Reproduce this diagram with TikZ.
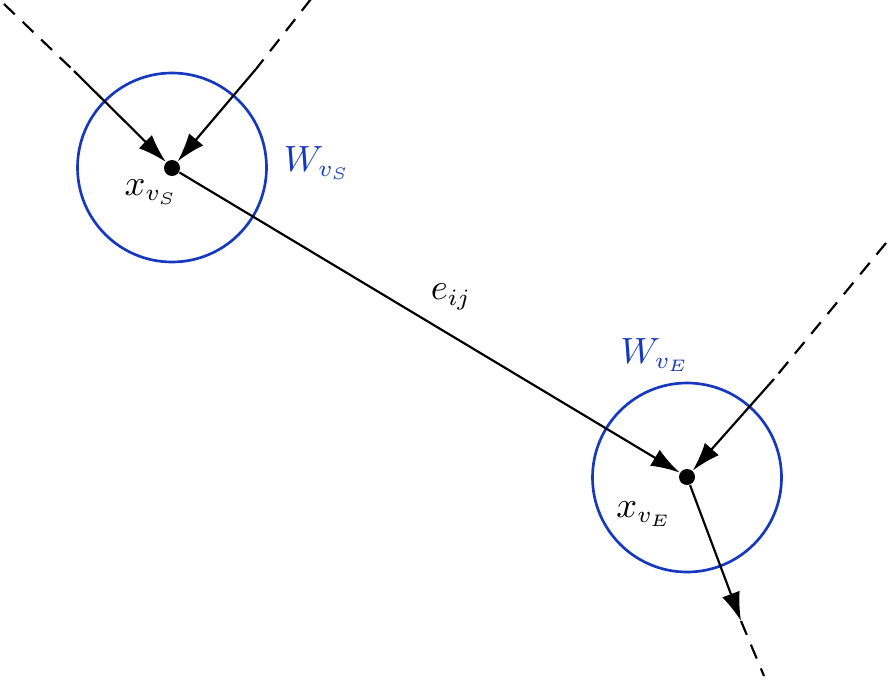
\documentclass[tikz,border=0pt]{standalone}
\usetikzlibrary{arrows.meta}
\definecolor{wblue}{RGB}{22,56,190}
\begin{document}
\begin{tikzpicture}[x=0.3pt,y=-0.3pt,
  font=\fontsize{10.6}{13}\selectfont,
  conn/.style={line width=0.65pt,-{Latex[length=8.6pt,width=5.6pt]}},
  dsh/.style={line width=0.65pt,dash pattern=on 4.5pt off 3.2pt},
  dot/.style={circle,fill=black,inner sep=0pt,minimum size=4.8pt},
  win/.style={draw=wblue,line width=0.8pt,circle,inner sep=0pt,minimum size=56.7pt},
  lbl/.style={inner sep=0pt},
  blbl/.style={inner sep=0pt,text=wblue}]
\useasboundingbox (0,0) rectangle (893,680);
% windows
\node[win] (WS) at (172,167.5) {};
\node[win] (WE) at (687,477.5) {};
% points
\node[dot] (S) at (172,168) {};
\node[dot] (E) at (687,477) {};
% free ends
\coordinate (a0) at (4,4);
\coordinate (a1) at (74,71);
\coordinate (b0) at (311,-1);
\coordinate (b1) at (256,69);
\coordinate (c0) at (886,243);
\coordinate (c1) at (774,379);
\coordinate (d1) at (741,621);
\coordinate (d0) at (764,676);
% connectors
\draw[dsh] (a0) -- (a1);
\draw[conn] (a1) -- (S);
\draw[dsh] (b0) -- (b1);
\draw[conn] (b1) -- (S);
\draw[conn] (S) -- (E);
\draw[dsh] (c0) -- (c1);
\draw[conn] (c1) -- (E);
\draw[conn] (E) -- (d1);
\draw[dsh] (d1) -- (d0);
% labels
\node[lbl] (xS) at (151,192) {$x_{v_S}$};
\node[blbl] (wS) at (317,163) {$W_{v_S}$};
\node[lbl] (eij) at (451,297) {$e_{ij}$};
\node[blbl] (wE) at (655,355) {$W_{v_E}$};
\node[lbl] (xE) at (644,514) {$x_{v_E}$};
\end{tikzpicture}
\end{document}
